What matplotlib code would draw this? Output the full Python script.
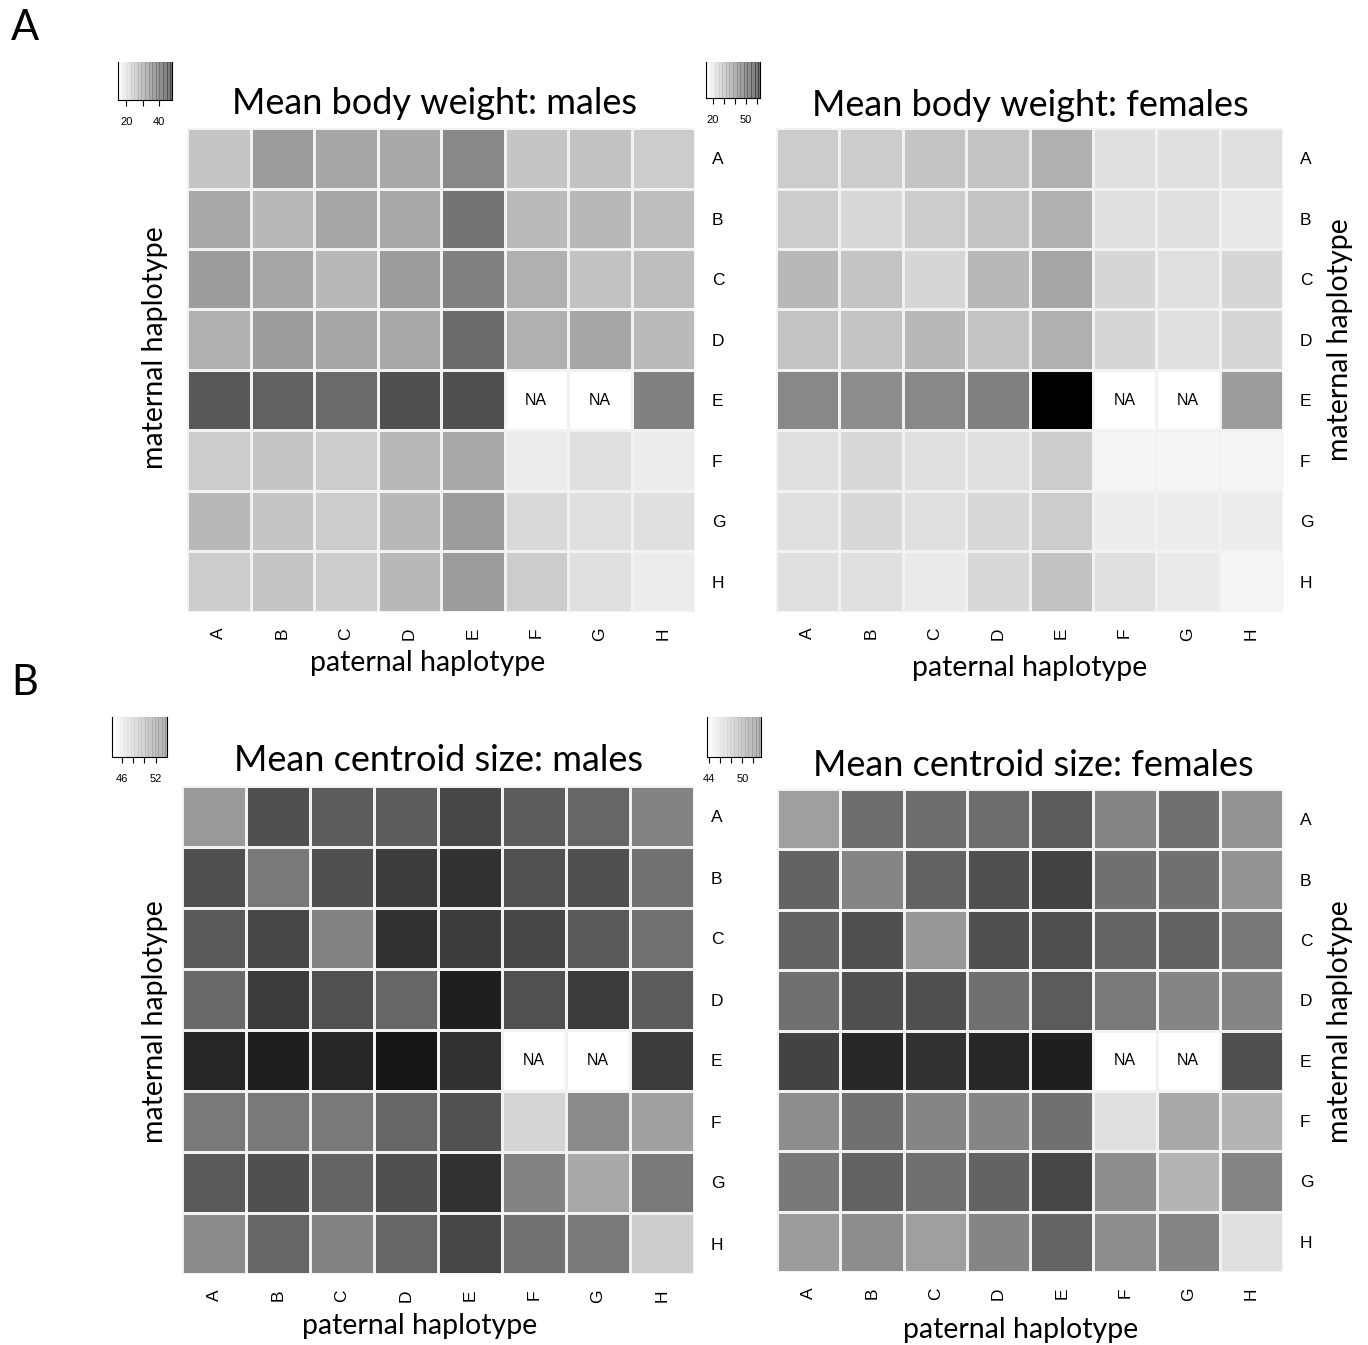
import numpy as np
import matplotlib
matplotlib.use("Agg")
from matplotlib import pyplot as plt

haplotypes = ['A', 'B', 'C', 'D', 'E', 'F', 'G', 'H']
nan = np.nan

# rows = maternal haplotype A..H, columns = paternal haplotype A..H
bw_males = [
    [22.6, 27.8, 26.5, 26.3, 30.4, 22.6, 22.9, 21.6],
    [26.3, 24.2, 26.5, 26.3, 33.0, 23.9, 24.2, 23.4],
    [27.8, 26.5, 24.2, 27.8, 31.4, 25.2, 22.9, 23.4],
    [25.2, 27.8, 26.5, 26.3, 34.3, 25.2, 26.5, 23.9],
    [36.6, 35.3, 34.3, 37.6, 37.6, nan, nan, 31.4],
    [21.6, 22.6, 21.6, 24.2, 26.3, 17.5, 19.0, 17.5],
    [24.2, 22.6, 21.6, 24.2, 27.8, 20.0, 19.0, 19.0],
    [21.6, 22.6, 21.6, 24.2, 27.8, 21.6, 19.0, 17.5],
]
bw_females = [
    [23.4, 23.4, 25.0, 25.0, 28.8, 19.5, 19.5, 19.5],
    [23.4, 21.1, 23.4, 25.0, 28.8, 19.5, 19.5, 18.0],
    [27.3, 25.0, 21.5, 27.3, 30.8, 21.5, 19.5, 21.5],
    [25.0, 25.0, 27.3, 25.0, 28.8, 21.5, 19.5, 21.5],
    [36.6, 35.8, 36.6, 38.2, 63.0, nan, nan, 32.7],
    [19.5, 21.1, 19.5, 19.5, 23.4, 15.6, 15.6, 15.6],
    [19.5, 21.1, 19.5, 21.1, 23.4, 17.2, 17.2, 17.2],
    [19.5, 19.5, 17.6, 21.1, 25.3, 19.5, 17.6, 15.6],
]
cs_males = [
    [48.2, 51.0, 50.5, 50.5, 51.3, 50.5, 50.1, 49.0],
    [51.0, 49.4, 51.0, 51.7, 52.1, 50.9, 51.0, 49.7],
    [50.6, 51.3, 49.0, 52.1, 51.7, 51.3, 50.6, 49.7],
    [50.0, 51.7, 50.9, 50.1, 52.8, 50.9, 51.7, 50.5],
    [52.5, 52.8, 52.5, 53.2, 52.1, nan, nan, 51.7],
    [49.4, 49.4, 49.4, 50.1, 50.9, 45.9, 48.7, 47.9],
    [50.6, 51.0, 50.2, 51.0, 52.1, 49.0, 47.6, 49.4],
    [48.7, 50.1, 49.0, 50.1, 51.3, 49.7, 49.4, 46.2],
]
cs_females = [
    [47.3, 49.2, 49.2, 49.2, 49.9, 48.3, 49.1, 47.7],
    [49.6, 48.3, 49.6, 50.3, 50.8, 49.1, 49.1, 47.7],
    [49.6, 50.3, 47.6, 50.3, 50.3, 49.5, 49.6, 48.8],
    [49.1, 50.3, 50.3, 49.1, 49.9, 48.7, 48.3, 48.3],
    [50.8, 51.9, 51.5, 51.9, 52.2, nan, nan, 50.3],
    [48.0, 49.1, 48.3, 48.3, 49.1, 44.8, 46.9, 46.5],
    [48.8, 49.6, 49.1, 49.6, 50.7, 48.0, 46.5, 48.3],
    [47.4, 48.0, 47.3, 48.3, 49.5, 48.0, 48.3, 44.8],
]

# colour key ranges and ticks
key_bw_males = (15.0, 48.0, [20, 30, 40], ['20', '', '40'])
key_bw_females = (13.5, 63.0, [20, 30, 40, 50, 60], ['20', '', '', '50', ''])
key_cs_males = (44.3, 54.0, [46, 48, 50, 52], ['46', '', '', '52'])
key_cs_females = (43.6, 53.4, [44, 46, 48, 50, 52], ['44', '', '', '50', ''])

LABEL_FONT = ['Lato', 'DejaVu Sans']
TICK_FONT = ['Liberation Sans', 'DejaVu Sans']
W, H = 1368, 1345


def fx(px):
    return px / W


def fy(py):
    return 1 - py / H


def _draw_key(fig, rect, key):
    vmin, vmax, ticks, labels = key
    cax = fig.add_axes(rect)
    grad = np.linspace(vmin, vmax, 40)[None, :]
    cax.imshow(grad, extent=[vmin, vmax, 0, 1], aspect='auto',
               cmap='gray_r', vmin=vmin, vmax=vmax * 1.25,
               interpolation='nearest')
    for x in np.linspace(vmin, vmax, 40)[1:]:
        cax.axvline(x, color='white', lw=0.4, alpha=0.5)
    cax.set_xlim(vmin, vmax)
    cax.set_yticks([])
    cax.set_xticks(ticks)
    cax.set_xticklabels(labels, fontsize=8, family=TICK_FONT)
    cax.tick_params(axis='x', length=4, width=0.8, pad=8)
    cax.spines['top'].set_visible(False)
    for s in ['left', 'right', 'bottom']:
        cax.spines[s].set_linewidth(0.8)


def _draw_heatmap(fig, rect, values, key):
    vmin, vmax = key[0], key[1]
    data = np.ma.masked_invalid(np.array(values, dtype=float))
    ax = fig.add_axes(rect)
    cmap = plt.get_cmap('gray_r').copy()
    cmap.set_bad('white')
    ax.pcolormesh(np.arange(9), np.arange(9), data, cmap=cmap,
                  vmin=vmin, vmax=vmax, edgecolors='#f2f2f2', linewidth=1.0)
    ax.set_xlim(0, 8)
    ax.set_ylim(8, 0)
    for i in range(8):
        for j in range(8):
            if np.ma.is_masked(data[i, j]):
                ax.text(j + 0.5, i + 0.5, 'NA', ha='center', va='center',
                        fontsize=11.5, family=TICK_FONT)
    ax.set_xticks(np.arange(8) + 0.5)
    ax.set_xticklabels(haplotypes, rotation=90, fontsize=12.5, family=TICK_FONT)
    ax.yaxis.tick_right()
    ax.set_yticks(np.arange(8) + 0.5)
    ax.set_yticklabels(haplotypes, fontsize=12.5, family=TICK_FONT)
    ax.tick_params(axis='x', length=0, pad=11)
    ax.tick_params(axis='y', length=0, pad=12)
    for s in ax.spines.values():
        s.set_visible(False)
    return ax


fig = plt.figure(figsize=(13.68, 13.45), dpi=100)

panels = [
    # values, key, heatmap box (l, t, r, b) in px, key box, title, title pos,
    # xlabel pos, ylabel pos
    (bw_males, key_bw_males, (187, 128, 695, 612), (118, 62, 172, 100),
     'Mean body weight: males', (435, 103), (428, 663), (155, 348)),
    (bw_females, key_bw_females, (776, 128, 1283, 612), (706, 62, 760, 98),
     'Mean body weight: females', (1030, 105), (1030, 668), (1340, 340)),
    (cs_males, key_cs_males, (182, 786, 694, 1274), (112, 717, 167, 757),
     'Mean centroid size: males', (438, 760), (420, 1326), (155, 1022)),
    (cs_females, key_cs_females, (777, 789, 1283, 1272), (707, 717, 761, 757),
     'Mean centroid size: females', (1033, 765), (1021, 1330), (1340, 1022)),
]

for values, key, box, kbox, title, tpos, xpos, ypos in panels:
    l, t, r, b = box
    _draw_heatmap(fig, [fx(l), fy(b), fx(r) - fx(l), fy(t) - fy(b)], values, key)
    kl, kt, kr, kb = kbox
    _draw_key(fig, [fx(kl), fy(kb), fx(kr) - fx(kl), fy(kt) - fy(kb)], key)
    fig.text(fx(tpos[0]), fy(tpos[1]), title, ha='center', va='center',
             fontsize=26, family=LABEL_FONT)
    fig.text(fx(xpos[0]), fy(xpos[1]), 'paternal haplotype', ha='center',
             va='center', fontsize=20.5, family=LABEL_FONT)
    fig.text(fx(ypos[0]), fy(ypos[1]), 'maternal haplotype', ha='center',
             va='center', rotation=90, fontsize=20.5, family=LABEL_FONT)

fig.text(fx(25), fy(28), 'A', ha='center', va='center', fontsize=30,
         family=LABEL_FONT)
fig.text(fx(25), fy(683), 'B', ha='center', va='center', fontsize=30,
         family=LABEL_FONT)

fig.savefig('out.png', dpi=100)
plt.close(fig)
